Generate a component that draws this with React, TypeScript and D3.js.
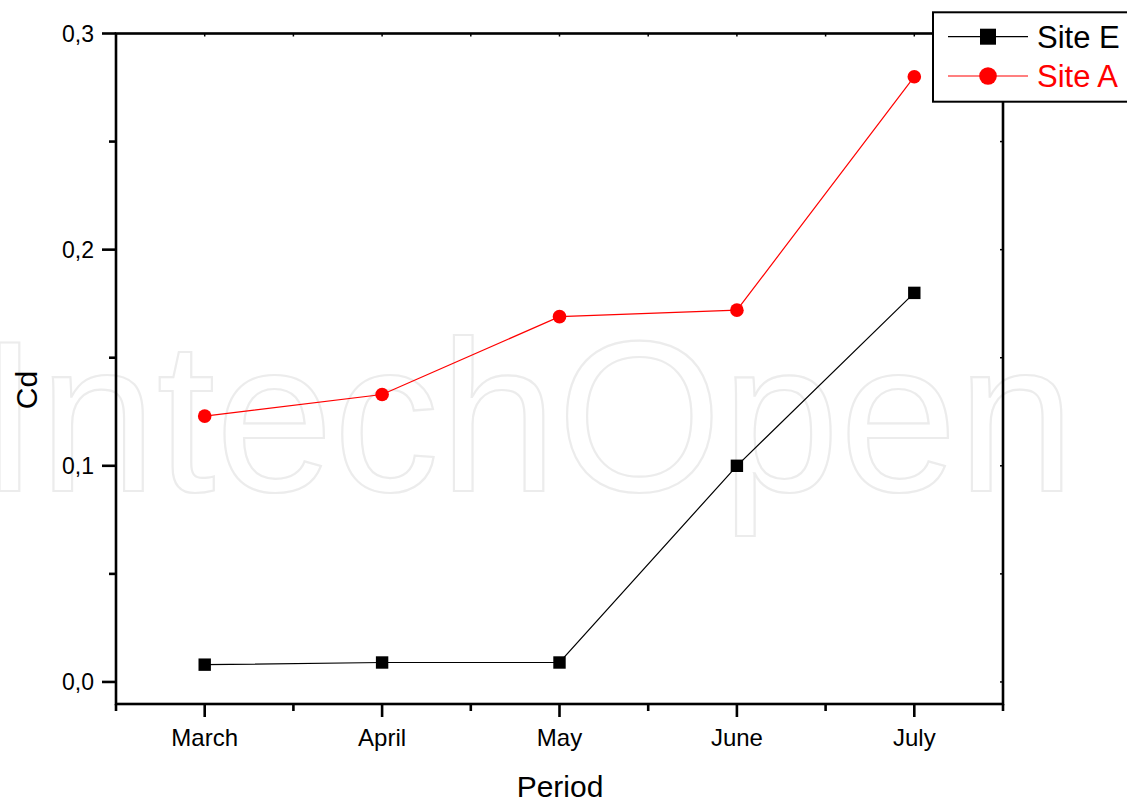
import React from "react";
import * as d3 from "d3";

const categories = ["March", "April", "May", "June", "July"];
const siteE = [0.008, 0.009, 0.009, 0.1, 0.18];
const siteA = [0.123, 0.133, 0.169, 0.172, 0.28];
const yMajorTicks = [0, 0.1, 0.2, 0.3];
const yMinorTicks = [0.05, 0.15, 0.25];
const yTickLabels = ["0,0", "0,1", "0,2", "0,3"];

const W = 1127;
const H = 804;
const left = 116;
const right = 1003;
const top = 33.5;
const bottom = 704;
const font = "Arial, 'Liberation Sans', Helvetica, sans-serif";

export default function App() {
  const x = d3.scaleLinear().domain([0.5, 5.5]).range([left, right]);
  const y = d3.scaleLinear().domain([-0.0102, 0.3]).range([bottom, top]);
  const line = d3
    .line<number>()
    .x((_, i) => x(i + 1))
    .y((d) => y(d));
  const xMinor = d3.range(0.5, 5.51, 1);
  const yRightTicks = d3.range(0, 0.301, 0.05);

  return (
    <svg
      width={W}
      height={H}
      style={{ position: "absolute", left: 0, top: 0, background: "#fff" }}
      fontFamily={font}
    >
      {/* watermark */}
      <text
        x={-20}
        y={491}
        fontSize={216}
        fill="none"
        stroke="#ececec"
        strokeWidth={2.2}
        textLength={1095}
        lengthAdjust="spacingAndGlyphs"
      >
        IntechOpen
      </text>

      {/* frame */}
      <rect
        x={left}
        y={top}
        width={right - left}
        height={bottom - top}
        fill="none"
        stroke="#000"
        strokeWidth={2.6}
      />

      {/* left axis ticks */}
      {yMajorTicks.map((t, i) => (
        <g key={"ym" + i}>
          <line x1={left - 14} x2={left} y1={y(t)} y2={y(t)} stroke="#000" strokeWidth={2.6} />
          <text x={94} y={y(t) + 8} fontSize={23} textAnchor="end" fill="#000">
            {yTickLabels[i]}
          </text>
        </g>
      ))}
      {yMinorTicks.map((t, i) => (
        <line key={"yn" + i} x1={left - 7} x2={left} y1={y(t)} y2={y(t)} stroke="#000" strokeWidth={2.6} />
      ))}
      {/* right axis small ticks */}
      {yRightTicks.map((t, i) => (
        <line key={"yr" + i} x1={right - 3} x2={right} y1={y(t)} y2={y(t)} stroke="#000" strokeWidth={1.5} />
      ))}

      {/* bottom axis ticks */}
      {categories.map((c, i) => (
        <g key={"xm" + i}>
          <line x1={x(i + 1)} x2={x(i + 1)} y1={bottom} y2={bottom + 13} stroke="#000" strokeWidth={2.6} />
          <line x1={x(i + 1)} x2={x(i + 1)} y1={top} y2={top + 3} stroke="#000" strokeWidth={1.5} />
          <text x={x(i + 1)} y={745.5} fontSize={24} textAnchor="middle" fill="#000">
            {c}
          </text>
        </g>
      ))}
      {xMinor.map((t, i) => (
        <g key={"xn" + i}>
          <line x1={x(t)} x2={x(t)} y1={bottom} y2={bottom + 7} stroke="#000" strokeWidth={2.6} />
          <line x1={x(t)} x2={x(t)} y1={top} y2={top + 3} stroke="#000" strokeWidth={1.5} />
        </g>
      ))}

      {/* axis titles */}
      <text x={560} y={797} fontSize={30} textAnchor="middle" fill="#000">
        Period
      </text>
      <text
        transform={`translate(37, 390) rotate(-90)`}
        fontSize={30}
        textAnchor="middle"
        fill="#000"
      >
        Cd
      </text>

      {/* series */}
      <path d={line(siteE) || ""} fill="none" stroke="#000" strokeWidth={1.2} />
      <path d={line(siteA) || ""} fill="none" stroke="#ff0000" strokeWidth={1.2} />
      {siteE.map((v, i) => (
        <rect key={"e" + i} x={x(i + 1) - 6.2} y={y(v) - 6.2} width={12.4} height={12.4} fill="#000" />
      ))}
      {siteA.map((v, i) => (
        <circle key={"a" + i} cx={x(i + 1)} cy={y(v)} r={6.8} fill="#ff0000" />
      ))}

      {/* legend */}
      <rect x={933} y={12.3} width={200} height={89.4} fill="#fff" stroke="#000" strokeWidth={2} />
      <line x1={948} x2={1028} y1={36.7} y2={36.7} stroke="#000" strokeWidth={1.2} />
      <rect x={988 - 8} y={36.7 - 8} width={16} height={16} fill="#000" />
      <text x={1037} y={48} fontSize={31} fill="#000">
        Site E
      </text>
      <line x1={948} x2={1028} y1={76} y2={76} stroke="#ff0000" strokeWidth={1.2} />
      <circle cx={988} cy={76} r={8.8} fill="#ff0000" />
      <text x={1037} y={87} fontSize={31} fill="#ff0000">
        Site A
      </text>
    </svg>
  );
}
